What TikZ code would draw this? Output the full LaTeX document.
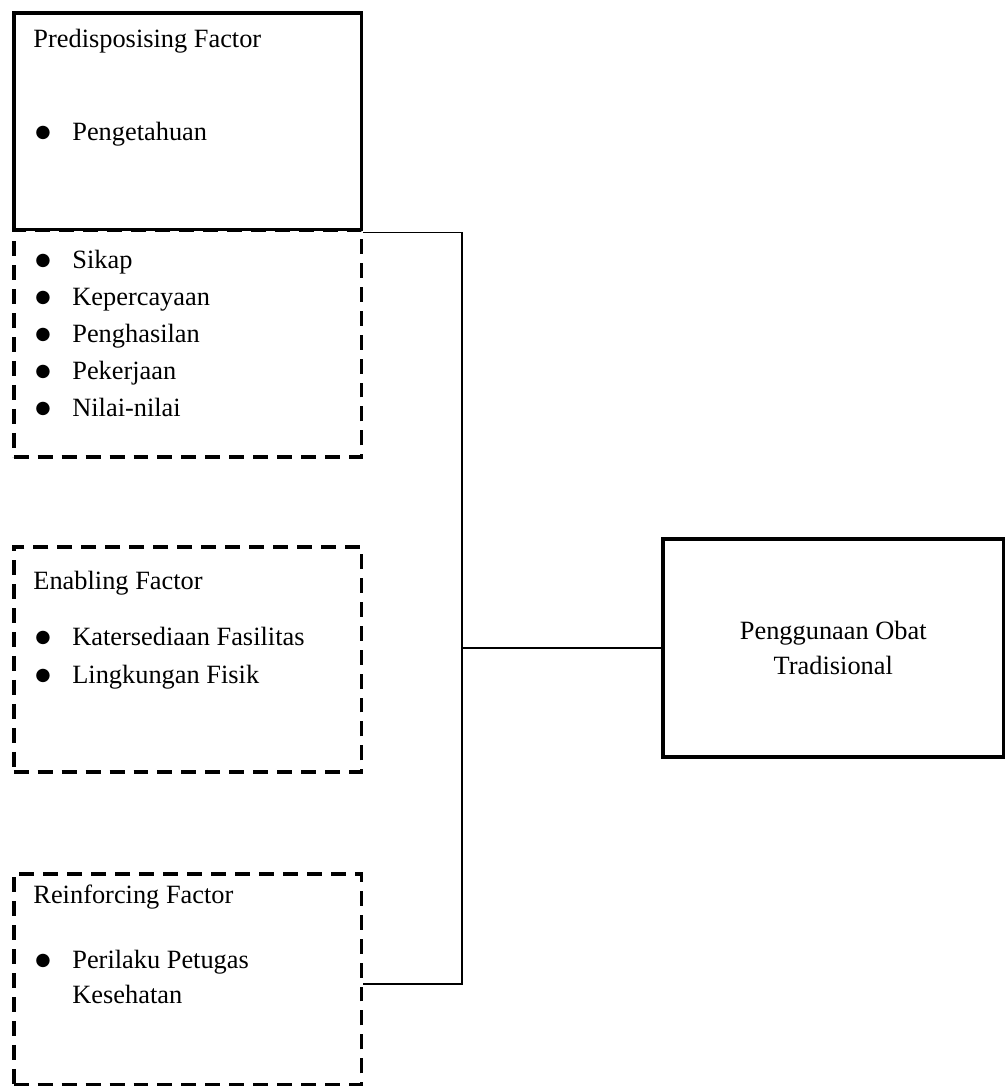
\documentclass[tikz,border=0pt]{standalone}
\usepackage{fontspec}
\setmainfont{Liberation Serif}
\newfontfamily\symfont{DejaVu Sans}
\usepackage{tikz}
\tikzset{
  solidbox/.style={draw,line width=1.6pt,rectangle,minimum width=158.3pt,inner sep=0pt,anchor=north west},
  dashbox/.style={solidbox,dash pattern=on 6.8pt off 4.1pt},
  conn/.style={line width=0.7pt},
  txt/.style={anchor=base west,inner sep=0pt,font=\fontsize{12}{16}\selectfont},
}
\newcommand{\itm}[1]{\makebox[16.8pt][l]{\raisebox{1pt}{\symfont\fontsize{8}{8}\selectfont ●}}#1}
\begin{document}
\begin{tikzpicture}[x=0.455pt,y=-0.455pt]
\path[use as bounding box] (0,0) rectangle (1004,1086);
\node[solidbox,minimum height=98.7pt] (pre) at (12,11) {};
\node[dashbox,minimum height=103.3pt] (pre2) at (12,228) {};
\node[dashbox,minimum height=102.4pt] (enab) at (12,545) {};
\node[dashbox,minimum height=96pt] (reinf) at (12,872) {};
\node[solidbox,minimum width=155.2pt,minimum height=99.2pt,align=center,
  font=\fontsize{12}{16}\selectfont,yshift=-2pt] (usage) at (661,533) {Penggunaan Obat\\Tradisional};
\node[txt] (pretitle) at (33,47) {Predisposising Factor};
\node[txt] (pengetahuan) at (35,140) {\itm{Pengetahuan}};
\foreach \txt [count=\i] in {Sikap,Kepercayaan,Penghasilan,Pekerjaan,Nilai-nilai}
  \node[txt] (pre2item\i) at (35,231+37*\i) {\itm{\txt}};
\node[txt] (enabtitle) at (33,589) {Enabling Factor};
\node[txt] (fasilitas) at (35,645) {\itm{Katersediaan Fasilitas}};
\node[txt] (fisik) at (35,683) {\itm{Lingkungan Fisik}};
\node[txt] (reinftitle) at (33,903) {Reinforcing Factor};
\node[txt] (petugas) at (35,968) {\itm{Perilaku Petugas}};
\node[txt] (kesehatan) at (72,1003) {Kesehatan};
\coordinate (bus) at (462,648);
\draw[conn] ([yshift=-2pt]pre2.north east) -| (bus) |- ([yshift=-2.2pt]reinf.east);
\draw[conn] (bus) -- (usage.west |- bus);
\end{tikzpicture}
\end{document}
